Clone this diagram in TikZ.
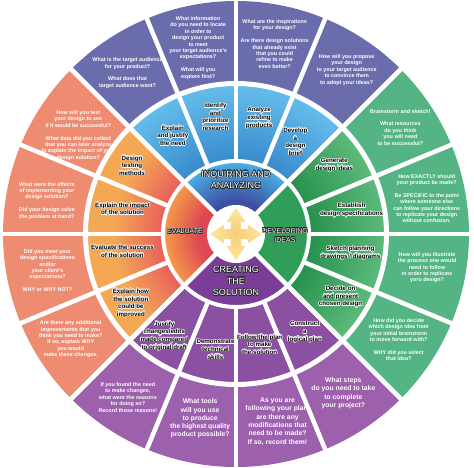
\documentclass[tikz,border=0pt]{standalone}
\usepackage{fontspec}
\setmainfont{Liberation Sans}
\usepackage{xcolor}
\usepackage{tikz}
\usepackage[copies]{contour}
\contourlength{0.5pt}
\contournumber{16}

\definecolor{outerblue}{RGB}{106,108,172}
\definecolor{midbluelight}{RGB}{100,188,234}
\definecolor{midbluedark}{RGB}{58,140,206}
\definecolor{innerbluelight}{RGB}{72,172,226}
\definecolor{innerbluedark}{RGB}{62,78,160}
\definecolor{outergreen}{RGB}{84,180,132}
\definecolor{midgreenlight}{RGB}{92,186,122}
\definecolor{midgreendark}{RGB}{40,146,78}
\definecolor{innergreen}{RGB}{48,158,88}
\definecolor{outerpurple}{RGB}{156,96,172}
\definecolor{midpurple}{RGB}{140,80,162}
\definecolor{innerpurple}{RGB}{122,62,152}
\definecolor{outerorange}{RGB}{238,140,114}
\definecolor{midorange}{RGB}{244,168,84}
\definecolor{midred}{RGB}{232,98,92}
\definecolor{innerorange}{RGB}{242,152,74}
\definecolor{innerred}{RGB}{222,72,82}
\definecolor{arrowyellow}{RGB}{252,232,160}
\definecolor{arroworange}{RGB}{248,204,120}

% 25bp of each shading meets the outer edge (236pt) of the clipped disc
\pgfdeclareradialshading{bluequarter}{\pgfpointorigin}{color(0bp)=(innerbluedark); color(3.5bp)=(innerbluedark); color(7.5bp)=(innerbluelight); color(50bp)=(innerbluelight)}
\pgfdeclareradialshading{orangequarter}{\pgfpointorigin}{color(0bp)=(innerred); color(4bp)=(innerred); color(7.5bp)=(innerorange); color(50bp)=(innerorange)}
\pgfdeclareradialshading{bluering}{\pgfpointorigin}{color(0bp)=(midbluedark); color(8bp)=(midbluedark); color(15.7bp)=(midbluelight); color(50bp)=(midbluelight)}
\pgfdeclareradialshading{greenring}{\pgfpointorigin}{color(0bp)=(midgreendark); color(8bp)=(midgreendark); color(15.7bp)=(midgreenlight); color(50bp)=(midgreenlight)}
\pgfdeclareradialshading{orangering}{\pgfpointorigin}{color(0bp)=(midred); color(8bp)=(midred); color(13bp)=(midorange); color(50bp)=(midorange)}

% annular sector: colour, start, end, inner radius, outer radius
\newcommand\sector[5]{\fill[#1] (#2:#4pt) arc[start angle=#2, end angle=#3, radius=#4pt] -- (#3:#5pt) arc[start angle=#3, end angle=#2, radius=#5pt] -- cycle;}
% shaded annular sector: shading, start, end, inner radius, outer radius
\newcommand\shadedsector[5]{\begin{scope}
  \clip (#2:#4pt) arc[start angle=#2, end angle=#3, radius=#4pt] -- (#3:#5pt) arc[start angle=#3, end angle=#2, radius=#5pt] -- cycle;
  \shade[shading=#1] (0,0) circle (236pt);
\end{scope}}
\newcommand\halo[1]{\contour{white}{\begin{tabular}{@{}c@{}}#1\end{tabular}}}
\newcommand\darkhalo[1]{\contour{black!85}{\begin{tabular}{@{}c@{}}#1\end{tabular}}}

\begin{document}
\begin{tikzpicture}[x=1pt,y=1pt,
  outertxt/.style={text=white, font=\fontsize{5.4}{6.4}\selectfont\bfseries, align=center},
  bigtxt/.style={text=white, font=\fontsize{6.8}{8.3}\selectfont\bfseries, align=center},
  midtxt/.style={font=\fontsize{6.2}{7.6}\selectfont\bfseries},
  quartxt/.style={text=white, font=\fontsize{9}{11.5}\selectfont},
  smallquartxt/.style={text=white, font=\fontsize{7}{9}\selectfont},
  gapline/.style={white, line width=4.5pt}]

\useasboundingbox (-236,-233) rectangle (238,234);

% outer ring of questions
\sector{outerblue}{45}{135}{150}{233}
\sector{outergreen}{-45}{45}{150}{233}
\sector{outerpurple}{-135}{-45}{150}{233}
\sector{outerorange}{135}{225}{150}{233}

% middle ring of tasks
\shadedsector{bluering}{45}{135}{73}{150}
\shadedsector{greenring}{-45}{45}{73}{150}
\sector{midpurple}{-135}{-45}{73}{150}
\shadedsector{orangering}{135}{225}{73}{150}

% inner quarters
\shadedsector{bluequarter}{45}{135}{0}{73}
\sector{innergreen}{-45}{45}{0}{73}
\sector{innerpurple}{-135}{-45}{0}{73}
\shadedsector{orangequarter}{135}{225}{0}{73}

% white gaps
\foreach \a in {0,22.5,...,337.5}
  \draw[gapline] (\a:73pt) -- (\a:236pt);
\foreach \a in {45,135,225,315}
  \draw[gapline] (0,0) -- (\a:236pt);
\draw[white, line width=4pt] (0,0) circle (73pt);
\draw[white, line width=5pt] (0,0) circle (150.5pt);

% hub with the four-way arrow
\fill[white] (0,0) circle (29pt);
\coordinate (hub) at (0,0);
\shade[inner color=arroworange, outer color=arrowyellow] (5,5) -- (5,12) -- (9.5,12) -- (0,26) -- (-9.5,12) -- (-5,12) -- (-5,5) -- (-12,5) -- (-12,9.5) -- (-26,0) -- (-12,-9.5) -- (-12,-5) -- (-5,-5) -- (-5,-12) -- (-9.5,-12) -- (0,-26) -- (9.5,-12) -- (5,-12) -- (5,-5) -- (12,-5) -- (12,-9.5) -- (26,0) -- (12,9.5) -- (12,5) -- cycle;

% quarter labels
\node[quartxt] (inquiring) at (0,53) {\darkhalo{INQUIRING AND\\ANALYZING}};
\node[smallquartxt] (developing) at (49,-2) {\darkhalo{DEVELOPING\\IDEAS}};
\node[quartxt] (creating) at (0,-48) {\darkhalo{CREATING\\THE\\SOLUTION}};
\node[smallquartxt] (evaluate) at (-51,2) {\darkhalo{EVALUATE}};

% middle ring labels
\node[midtxt] (brief) at (57:109pt) {\halo{Develop\\a\\design\\brief}};
\node[midtxt] (analyze) at (78.75:118pt) {\halo{Analyze\\existing\\products}};
\node[midtxt] (identify) at (100:118pt) {\halo{Identify\\and\\prioritize\\research}};
\node[midtxt] (justify) at (123:116pt) {\halo{Explain\\and justify\\the need}};
\node[midtxt] (testing) at (147:124pt) {\halo{Design\\testing\\methods}};
\node[midtxt] (impact) at (168:116pt) {\halo{Explain the impact\\of the solution}};
\node[midtxt] (success) at (-171:115pt) {\halo{Evaluate the success\\of the solution}};
\node[midtxt] (improve) at (-146.5:126pt) {\halo{Explain how\\the solution\\could be\\improved}};
\node[midtxt] (edits) at (-125:125pt) {\halo{Justify\\changes/edits\\made compared\\to original draft}};
\node[midtxt] (skills) at (-100:118pt) {\halo{Demonstrate\\technical\\skills}};
\node[midtxt] (follow) at (-78:114pt) {\halo{Follow the plan\\to make\\the solution}};
\node[midtxt] (construct) at (-55:120pt) {\halo{Construct\\a\\logical plan}};
\node[midtxt] (present) at (-31:122pt) {\halo{Decide on\\and present\\chosen design}};
\node[midtxt] (sketch) at (-9.5:116pt) {\halo{Sketch planning\\drawings / diagrams}};
\node[midtxt] (specs) at (11.5:118pt) {\halo{Establish\\design specifications}};
\node[midtxt] (generate) at (35:120pt) {\halo{Generate\\design ideas}};

% outer ring questions
\node[outertxt] (propose) at (56:198pt) {How will you propose\\your design\\to your target audience\\to convince them\\to adopt your ideas?};
\node[outertxt] (inspiration) at (78.5:194pt) {What are the inspirations\\for your design?\\[6.4pt]Are there design solutions\\that already exist\\that you could\\refine to make\\even better?};
\node[outertxt] (information) at (101.5:190pt) {What information\\do you need to locate\\in order to\\design your product\\to meet\\your target audience's\\expectations?\\[6.4pt]What will you\\explore first?};
\node[outertxt] (audience) at (124:194pt) {What is the target audience\\for your product?\\[6.4pt]What does that\\target audience want?};
\node[outertxt] (brainstorm) at (33:196pt) {Brainstorm and sketch!\\[6.4pt]What resources\\do you think\\you will need\\to be successful?};
\node[outertxt] (exactly) at (10.5:194pt) {How EXACTLY should\\your product be made?\\[6.4pt]Be SPECIFIC to the point\\where someone else\\can follow your directions\\to replicate your design\\without confusion.};
\node[outertxt] (illustrate) at (-10:194pt) {How will you illustrate\\the process one would\\need to follow\\in order to replicate\\yoru design?};
\node[outertxt] (decide) at (-33:194pt) {How did you decide\\which design idea from\\your initial brainstorm\\to move forward with?\\[6.4pt]WHY did you select\\that idea?};
\node[bigtxt] (steps) at (-56:192pt) {What steps\\do you need to take\\to complete\\your project?};
\node[bigtxt] (following) at (-77.5:192pt) {As you are\\following your plan,\\are there any\\modifications that\\need to be made?\\If so, record them!};
\node[bigtxt] (tools) at (-101:188pt) {What tools\\will you use\\to produce\\the highest quality\\product possible?};
\node[outertxt] (changes) at (-123.5:196pt) {If you found the need\\to make changes,\\what were the reasons\\for doing so?\\Record those reasons!};
\node[outertxt] (additional) at (-147.5:196pt) {Are there any additional\\improvements that you\\think you need to make?\\If so, explain WHY\\you would\\make these changes.};
\node[outertxt] (meet) at (-169:192pt) {Did you meet your\\design specifications\\and/or\\your client's\\expectations?\\[6.4pt]WHY or WHY NOT?};
\node[outertxt] (effects) at (170:192pt) {What were the effects\\of implementing your\\design solution?\\[6.4pt]Did your design solve\\the problem at hand?};
\node[outertxt] (test) at (148:186pt) {How will you test\\your design to see\\if it would be successful?\\[6.4pt]What data did you collect\\that you can later analyze\\to explain the impact of your\\design solution?};
\end{tikzpicture}
\end{document}
